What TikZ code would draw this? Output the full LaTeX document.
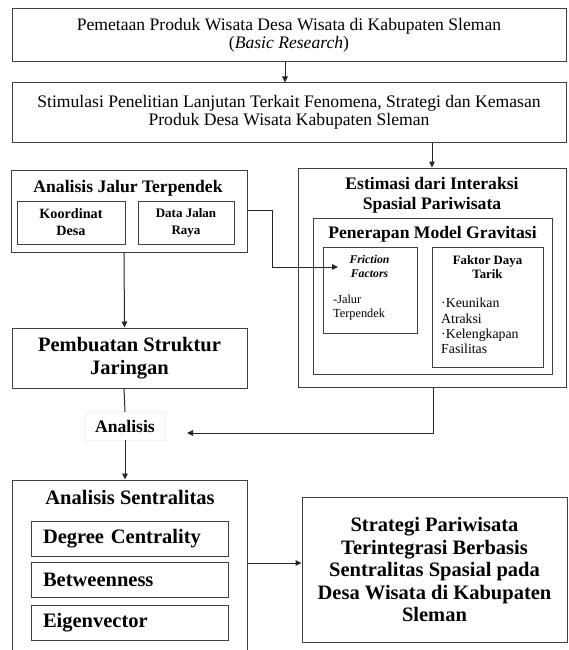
\documentclass[tikz,border=0pt]{standalone}
\usepackage{fontspec}
\setmainfont{Liberation Serif}
\usetikzlibrary{arrows.meta}
\newcommand\fmain{\fontsize{17.6}{18.3}\selectfont}
\newcommand\fbig{\fontsize{20.5}{22.5}\selectfont\bfseries}
\newcommand\fmid{\fontsize{17.6}{20}\selectfont\bfseries}
\newcommand\fkd{\fontsize{14.2}{17}\selectfont\bfseries}
\newcommand\fdj{\fontsize{13}{17}\selectfont\bfseries}
\newcommand\ffric{\fontsize{11.8}{14}\selectfont\bfseries\itshape}
\newcommand\ffak{\fontsize{12.8}{14.5}\selectfont\bfseries}
\newcommand\fjal{\fontsize{12.3}{14}\selectfont}
\newcommand\ftiny{\fontsize{13.8}{15.3}\selectfont}
\begin{document}
\begin{tikzpicture}[x=1pt,y=-1pt,
  box/.style={draw=black!75, line width=1pt, rectangle, inner sep=0pt},
  txt/.style={inner sep=0pt},
  ln/.style={draw=black!85, line width=1pt},
  arr/.style={draw=black!85, line width=1pt, -{Triangle[length=6pt,width=5.5pt]}},
  item/.style={box, text width=173pt, inner xsep=12pt, inner ysep=0pt, align=left, minimum height=35pt, font=\fbig}
]
\useasboundingbox (0,0) rectangle (568,650);
\clip (0,0) rectangle (568,650);
\fill[white] (0,0) rectangle (568,650);

% top boxes
\node[box, minimum width=554pt, minimum height=53pt, align=center, font=\fmain] (b1) at (289,35.5)
  {Pemetaan Produk Wisata Desa Wisata di Kabupaten Sleman\\(\textit{Basic Research})};
\node[box, minimum width=554pt, minimum height=59pt, align=center, font=\fmain] (b2) at (289,112.5)
  {Stimulasi Penelitian Lanjutan Terkait Fenomena, Strategi dan Kemasan\\Produk Desa Wisata Kabupaten Sleman};

% left group
\node[box, minimum width=236pt, minimum height=82pt] (lb) at (129,211) {};
\node[txt, font=\fmid] (lbt) at (128,188) {Analisis Jalur Terpendek};
\node[box, minimum width=108pt, minimum height=43pt, align=center, font=\fkd] (kd) at (71,222.5) {Koordinat\\Desa};
\node[box, minimum width=96pt, minimum height=43pt, align=center, font=\fdj] (dj) at (186,222.5) {Data Jalan\\Raya};

\node[box, minimum width=235pt, minimum height=60pt, align=center, font=\fbig] (pj) at (129.5,358) {Pembuatan Struktur\\Jaringan};

% right group
\node[box, minimum width=268pt, minimum height=219pt] (rb) at (432,277.5) {};
\node[txt, font=\fmid, align=center] (rbt) at (432,195) {Estimasi dari Interaksi\\Spasial Pariwisata};
\node[box, minimum width=239pt, minimum height=156pt] (pm) at (432.5,296) {};
\node[txt, font=\fmid] (pmt) at (432.5,234) {Penerapan Model Gravitasi};
\node[box, minimum width=94pt, minimum height=86pt] (ff) at (370,290) {};
\node[txt, font=\ffric, align=center] (fft) at (369.5,266) {Friction\\Factors};
\node[txt, font=\fjal, align=left, anchor=west] (ffb) at (333,308) {-Jalur\\Terpendek};
\node[box, minimum width=111pt, minimum height=120pt] (fd) at (488,307) {};
\node[txt, font=\ffak, align=center] (fdt) at (487.5,267) {Faktor Daya\\Tarik};
\node[txt, font=\ftiny, align=left, anchor=west] (fdb) at (441,326) {·Keunikan\\Atraksi\\·Kelengkapan\\Fasilitas};

% analisis label
\node[draw=black!5, fill=white, minimum width=80pt, minimum height=28pt, font=\fmid, inner sep=0pt] (an) at (125,426) {Analisis};

% bottom left group
\node[box, minimum width=235pt, minimum height=190pt] (as) at (129.5,575) {};
\node[txt, font=\fbig] (ast) at (130,497) {Analisis Sentralitas};
\node[item] (dc) at (129.5,538.5) {Degree Centrality};
\node[item] (bw) at (129.5,579.5) {Betweenness};
\node[item] (ev) at (129.5,622.5) {Eigenvector};

% final box
\node[box, minimum width=265pt, minimum height=145pt, align=center, font=\fbig] (st) at (434.5,569.5)
  {Strategi Pariwisata\\Terintegrasi Berbasis\\Sentralitas Spasial pada\\Desa Wisata di Kabupaten\\Sleman};

% connectors
\coordinate (fftip) at (338,267);
\coordinate (antip) at (187,433);
\draw[arr] ([xshift=-4pt]b1.south) -- ([xshift=-4pt]b2.north);
\draw[arr] (b2.south -| rb.north) -- (rb.north);
\draw[arr] ([xshift=-5pt]lb.south) -- ([xshift=-5pt]pj.north);
\draw[arr] ([yshift=1pt]lb.east) -| (272,267) -- (fftip);
\draw[ln] ([xshift=-5.5pt]pj.south) -- (an.north);
\draw[arr] (an.south) -- (an.south |- as.north);
\draw[arr] ([xshift=1pt]rb.south) |- (antip);
\draw[arr] ([yshift=6.5pt]st.west -| as.east) -- ([yshift=6.5pt]st.west);
\end{tikzpicture}
\end{document}
